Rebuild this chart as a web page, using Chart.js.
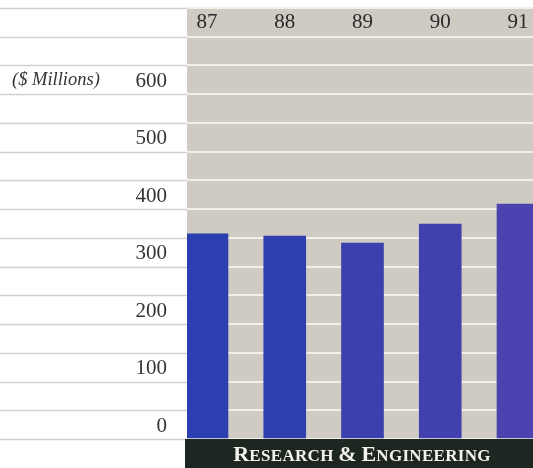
<!DOCTYPE html>
<html>
<head>
<meta charset="utf-8">
<script src="https://cdn.jsdelivr.net/npm/chart.js@4.4.0/dist/chart.umd.min.js"></script>
<style>
  html, body { margin: 0; padding: 0; background: #fff; overflow: hidden; }
  #wrap { width: 533px; height: 468px; position: relative; }
</style>
</head>
<body>
<div id="wrap"><canvas id="chart"></canvas></div>
<script>
const categories = ['87', '88', '89', '90', '91'];
const values = [357, 353, 341, 374, 409];
const barColors = ['#2b3fb0', '#2f3fae', '#3c3fae', '#423fae', '#4a43b0'];
const yTicks = [0, 100, 200, 300, 400, 500, 600];
const unitLabel = '($ Millions)';
const footerTitle = 'Research & Engineering';

// paints the panel, the left rules, year labels and footer band
const panelPlugin = {
    id: 'panel',
    beforeDraw(chart) {
        const { ctx, chartArea: a, scales: { y } } = chart;
        ctx.save();
        ctx.fillStyle = '#cfcbc2';
        ctx.fillRect(a.left, a.top, a.right - a.left, a.bottom - a.top);
        ctx.strokeStyle = '#d2d0cc';
        ctx.lineWidth = 1.5;
        for (let v = 0; v <= 750; v += 50) {
            const py = Math.round(y.getPixelForValue(v)) + 0.5;
            ctx.beginPath();
            ctx.moveTo(0, py);
            ctx.lineTo(a.left, py);
            ctx.stroke();
        }
        ctx.restore();
    },
    afterDraw(chart) {
        const { ctx, chartArea: a, scales: { x, y } } = chart;
        ctx.save();
        // year labels in the top band
        ctx.fillStyle = '#2a2a2a';
        ctx.font = '21px "Liberation Serif", serif';
        ctx.textAlign = 'center';
        ctx.textBaseline = 'middle';
        const yearY = (y.getPixelForValue(750) + y.getPixelForValue(700)) / 2;
        categories.forEach((c, i) => ctx.fillText(c, x.getPixelForValue(i), yearY));

        // unit label
        ctx.fillStyle = '#333';
        ctx.font = 'italic 18.5px "Liberation Serif", serif';
        ctx.textAlign = 'left';
        ctx.fillText(unitLabel, 12, (y.getPixelForValue(600) + y.getPixelForValue(650)) / 2);

        // footer band
        ctx.fillStyle = '#1d2620';
        ctx.fillRect(a.left - 2, a.bottom, a.right - a.left + 2, chart.height - a.bottom);
        const big = 'bold 22px "Liberation Serif", serif';
        const small = 'bold 17px "Liberation Serif", serif';
        const parts = [];
        let total = 0;
        let prev = ' ';
        footerTitle.toUpperCase().split('').forEach(ch => {
            const isBig = prev === ' ' || ch === '&';
            ctx.font = isBig ? big : small;
            const w = ctx.measureText(ch).width + 0.3;
            parts.push({ ch, font: isBig ? big : small, w });
            total += w;
            prev = ch;
        });
        let cx = 362 - total / 2;
        const by = a.bottom + 22;
        ctx.fillStyle = '#f4f2ec';
        ctx.textBaseline = 'alphabetic';
        parts.forEach(p => {
            ctx.font = p.font;
            ctx.fillText(p.ch, cx, by);
            cx += p.w;
        });
        ctx.restore();
    }
};

new Chart(document.getElementById('chart'), {
    type: 'bar',
    data: {
        datasets: [{
            data: values.map((v, i) => ({ x: i, y: v })),
            backgroundColor: barColors,
            borderWidth: 0,
            barThickness: 42
        }]
    },
    options: {
        responsive: true,
        maintainAspectRatio: false,
        animation: false,
        layout: { padding: { top: 8, bottom: 29, left: 0, right: 0 } },
        plugins: { legend: { display: false }, tooltip: { enabled: false } },
        scales: {
            x: {
                type: 'linear',
                offset: false,
                min: -0.257,
                max: 4.193,
                display: false
            },
            y: {
                min: 0,
                max: 750,
                afterFit: (s) => {
                    s.width = 187;
                    s.paddingTop = 0;
                    s.paddingBottom = 0;
                },
                afterBuildTicks: (s) => {
                    const t = [];
                    for (let v = 0; v <= 750; v += 50) t.push({ value: v });
                    s.ticks = t;
                },
                border: { display: false },
                grid: { color: '#f2efe6', lineWidth: 2, drawTicks: false },
                ticks: {
                    padding: 20,
                    labelOffset: -13,
                    color: '#333',
                    font: { family: '"Liberation Serif", serif', size: 21 },
                    callback: (v) => yTicks.includes(v) ? String(v) : ''
                }
            }
        }
    },
    plugins: [panelPlugin]
});
</script>
</body>
</html>
